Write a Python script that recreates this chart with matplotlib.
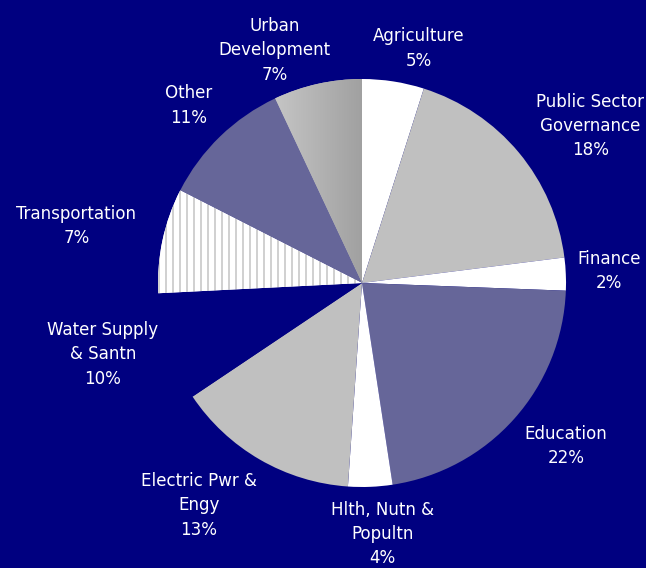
import matplotlib.pyplot as plt
import numpy as np

# sector shares, read clockwise from 12 o'clock
sectors = ["Agriculture", "Public Sector\nGovernance", "Finance", "Education",
           "Hlth, Nutn &\nPopultn", "Electric Pwr &\nEngy", "Water Supply\n& Santn",
           "Transportation", "Other", "Urban\nDevelopment"]
shares = [4.9, 18.1, 2.6, 22.0, 3.5, 14.5, 8.6, 8.3, 10.5, 7.0]
pct_labels = ["5%", "18%", "2%", "22%", "4%", "13%", "10%", "7%", "11%", "7%"]

NAVY = "#000080"
GRAY = "#c0c0c0"
SLATE = "#666699"
colors = ["white", GRAY, "white", SLATE, "white", GRAY, NAVY, "white", SLATE, GRAY]

# label offsets (in pie radii) from the pie centre
label_dx = [0.28, 1.12, 1.21, 1.00, 0.10, -0.80, -1.27, -1.40, -0.85, -0.43]
label_dy = [1.15, 0.77, 0.06, -0.80, -1.23, -1.09, -0.35, 0.28, 0.87, 1.14]

W, H = 646, 568
cx, cy, R = 362, 283, 204

fig = plt.figure(figsize=(W / 100, H / 100), dpi=100, facecolor=NAVY)
ax = fig.add_axes([0, 0, 1, 1])
ax.set_facecolor(NAVY)

wedges, _ = ax.pie(shares, colors=colors, startangle=90, counterclock=False,
                   radius=1, wedgeprops=dict(linewidth=0))

# horizontal grey gradient on Urban Development
grad = np.linspace(0.78, 0.63, 256).reshape(1, -1)
grad_img = np.dstack([grad, grad, grad])
im = ax.imshow(grad_img, extent=[-0.45, 0.0, 0.0, 1.0], aspect="auto", zorder=3)
im.set_clip_path(wedges[9])

# vertical grey stripes on Transportation
xs = np.arange(0, 2400)
stripe = np.where((xs % 7) < 2, 0.82, 1.0)
stripe_img = np.dstack([stripe, stripe, stripe]).reshape(1, -1, 3)
im2 = ax.imshow(stripe_img, extent=[-1.0, -1.0 + 2400 / R, -0.2, 0.6],
                aspect="auto", interpolation="nearest", zorder=3)
im2.set_clip_path(wedges[7])

ax.set_xlim(-cx / R, (W - cx) / R)
ax.set_ylim(-(H - cy) / R, cy / R)
ax.set_aspect("equal")
ax.axis("off")

for name, pct, dx, dy in zip(sectors, pct_labels, label_dx, label_dy):
    ax.text(dx, dy, name + "\n" + pct, ha="center", va="center",
            color="white", fontsize=13.3, linespacing=1.45,
            family="DejaVu Sans", fontstretch="condensed", zorder=5)

fig.savefig("out.png", dpi=100, facecolor=NAVY)
